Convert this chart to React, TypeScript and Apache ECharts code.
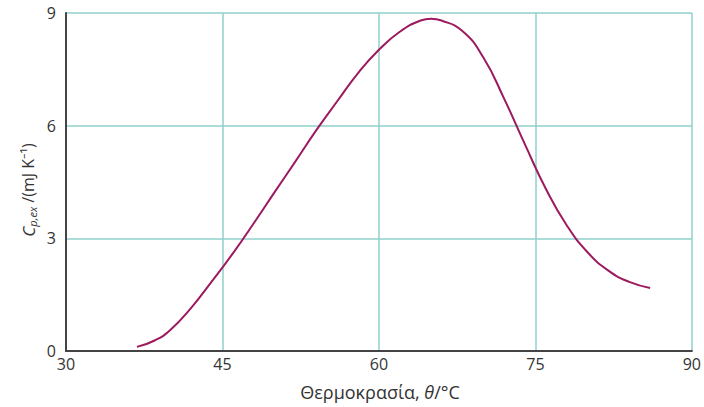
import React, { useEffect, useRef } from "react";
import * as echarts from "echarts";

const temperatures = [36.8, 38.5, 40.0, 42.0, 44.0, 46.0, 48.0, 50.0, 52.0, 54.0, 56.0, 58.0, 60.0, 62.0, 64.0, 65.0, 66.0, 68.0, 70.0, 72.0, 74.0, 76.0, 78.0, 80.0, 82.0, 84.0, 86.0];
const heatCapacity = [0.11, 0.28, 0.56, 1.15, 1.86, 2.6, 3.4, 4.23, 5.05, 5.88, 6.65, 7.4, 8.02, 8.5, 8.8, 8.85, 8.8, 8.52, 7.82, 6.72, 5.5, 4.32, 3.35, 2.63, 2.14, 1.84, 1.68];
const xTicks = [30, 45, 60, 75, 90];
const yTicks = [0, 3, 6, 9];

const FONT = "'Open Sans', 'Noto Sans', sans-serif";

export default function App() {
  const ref = useRef<HTMLDivElement>(null);
  useEffect(() => {
    if (!ref.current) return;
    const chart = echarts.init(ref.current, undefined, { renderer: "svg" });
    chart.setOption({
      animation: false,
      backgroundColor: "#ffffff",
      grid: { left: 66, right: 10, top: 13, bottom: 56 },
      xAxis: {
        type: "value",
        min: xTicks[0],
        max: xTicks[xTicks.length - 1],
        interval: 15,
        axisLine: { show: true, onZero: false, lineStyle: { color: "#444", width: 2 } },
        axisTick: { show: false },
        axisLabel: { color: "#333", fontSize: 16, fontFamily: FONT, margin: 5 },
        splitLine: { show: true, lineStyle: { color: "#8fd0cc", width: 1.5 } },
      },
      yAxis: {
        type: "value",
        min: yTicks[0],
        max: yTicks[yTicks.length - 1],
        interval: 3,
        axisLine: { show: true, lineStyle: { color: "#444", width: 2 } },
        axisTick: { show: false },
        axisLabel: { color: "#333", fontSize: 16, fontFamily: FONT, margin: 10 },
        splitLine: { show: true, lineStyle: { color: "#8fd0cc", width: 1.5 } },
      },
      graphic: [
        {
          type: "text",
          x: 380,
          y: 392,
          style: {
            text: "{n|Θερμοκρασία, }{i|θ}{n|/°C}",
            align: "center",
            verticalAlign: "middle",
            fill: "#333",
            rich: {
              n: { fontSize: 18, fontFamily: FONT, fill: "#333" },
              i: { fontSize: 18, fontFamily: FONT, fontStyle: "italic", fill: "#333" },
            },
          },
        },
        {
          type: "text",
          x: 28,
          y: 190,
          rotation: Math.PI / 2,
          style: {
            text: "{c|C}{s|p,ex}{n| /(mJ K⁻¹)}",
            align: "center",
            verticalAlign: "middle",
            fill: "#333",
            rich: {
              c: { fontSize: 17, fontFamily: FONT, fontStyle: "italic", fill: "#333" },
              s: { fontSize: 11, fontFamily: FONT, fontStyle: "italic", fill: "#333", verticalAlign: "bottom", padding: [9, 0, 0, 0] },
              n: { fontSize: 16, fontFamily: FONT, fill: "#333" },
            },
          },
        },
      ],
      series: [
        {
          type: "line",
          data: temperatures.map((t, i) => [t, heatCapacity[i]]),
          smooth: 0.5,
          symbol: "none",
          lineStyle: { color: "#9c1a5e", width: 2 },
        },
      ],
    });
    return () => chart.dispose();
  }, []);
  return <div ref={ref} style={{ width: 704, height: 407, position: "absolute", left: 0, top: 0 }} />;
}
